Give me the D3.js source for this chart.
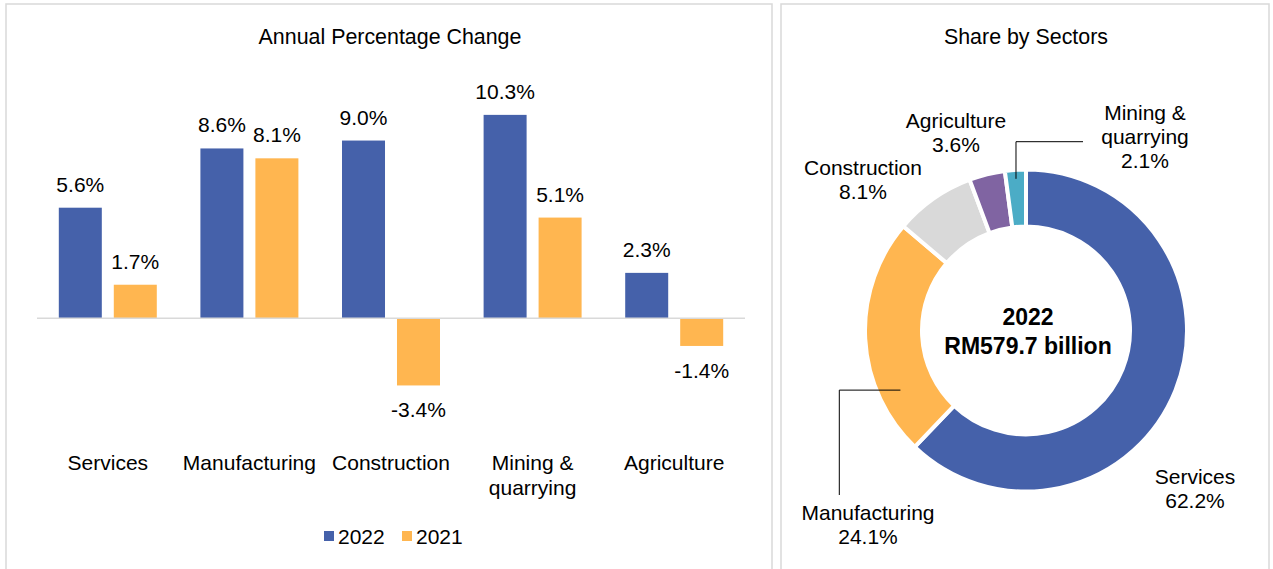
<!DOCTYPE html>
<html>
<head>
<meta charset="utf-8">
<script src="https://cdn.jsdelivr.net/npm/d3@7"></script>
<style>
  html, body { margin: 0; padding: 0; background: #fff; }
  svg { display: block; font-family: "Liberation Sans", Arial, sans-serif; }
</style>
</head>
<body>
<svg id="chart" width="1273" height="569"></svg>
<script>
// ---------- data ----------
const categories = ["Services", "Manufacturing", "Construction", "Mining & quarrying", "Agriculture"];
const seriesNames = ["2022", "2021"];
const values2022 = [5.6, 8.6, 9.0, 10.3, 2.3];
const values2021 = [1.7, 8.1, -3.4, 5.1, -1.4];

const shareSectors = ["Services", "Manufacturing", "Construction", "Agriculture", "Mining & quarrying"];
const shareValues = [62.2, 24.1, 8.1, 3.6, 2.1];
const centerLines = ["2022", "RM579.7 billion"];

const barTitle = "Annual Percentage Change";
const pieTitle = "Share by Sectors";

// ---------- style ----------
const seriesColors = { "2022": "#4561AA", "2021": "#FFB650" };
const sectorColors = ["#4561AA", "#FFB650", "#D9D9D9", "#8064A2", "#4BACC6"];
const FS = 21;
const TFS = 21.4;

const svg = d3.select("#chart");

// panel borders
svg.append("rect").attr("x", 6).attr("y", 4).attr("width", 766).attr("height", 600)
  .attr("fill", "none").attr("stroke", "#D9D9D9").attr("stroke-width", 1.5);
svg.append("rect").attr("x", 781).attr("y", 4).attr("width", 488).attr("height", 600)
  .attr("fill", "none").attr("stroke", "#D9D9D9").attr("stroke-width", 1.5);

// ---------- bar chart ----------
svg.append("text").attr("x", 390).attr("y", 44).attr("text-anchor", "middle")
  .attr("font-size", TFS).attr("fill", "#000").text(barTitle);

const x0 = d3.scaleBand().domain(categories).range([37, 745])
  .paddingInner(0.308).paddingOuter(0.154);
const x1 = d3.scaleBand().domain(seriesNames).range([0, x0.bandwidth()]).paddingInner(0.218);
const y = d3.scaleLinear().domain([-5, 12]).range([417.05, 81.3]);

const rows = categories.map((c, i) => ({ cat: c, vals: [
  { s: "2022", v: values2022[i] }, { s: "2021", v: values2021[i] } ] }));

const g = svg.append("g");
const groups = g.selectAll("g.grp").data(rows).join("g")
  .attr("transform", d => `translate(${x0(d.cat)},0)`);

groups.selectAll("rect").data(d => d.vals).join("rect")
  .attr("x", d => x1(d.s))
  .attr("width", x1.bandwidth())
  .attr("y", d => y(Math.max(0, d.v)))
  .attr("height", d => Math.abs(y(d.v) - y(0)))
  .attr("fill", d => seriesColors[d.s]);

groups.selectAll("text.val").data(d => d.vals).join("text")
  .attr("class", "val")
  .attr("x", d => x1(d.s) + x1.bandwidth() / 2)
  .attr("y", d => d.v >= 0 ? y(d.v) - 16 : y(d.v) + 32)
  .attr("text-anchor", "middle").attr("font-size", FS).attr("fill", "#000")
  .text(d => d.v.toFixed(1) + "%");

// zero line
g.append("line").attr("x1", 37).attr("x2", 745).attr("y1", y(0)).attr("y2", y(0))
  .attr("stroke", "#D9D9D9").attr("stroke-width", 1.5);

// category axis labels
const xAxis = d3.axisBottom(x0).tickSize(0).tickPadding(0);
const ax = g.append("g").attr("transform", "translate(0,470)").call(xAxis);
ax.select(".domain").remove();
ax.selectAll(".tick text").each(function(d) {
  const t = d3.select(this);
  t.text(null).attr("font-size", FS).attr("fill", "#000")
   .attr("font-family", "'Liberation Sans', Arial, sans-serif").attr("dy", 0);
  const parts = d === "Mining & quarrying" ? ["Mining &", "quarrying"] : [d];
  parts.forEach((p, i) => t.append("tspan").attr("x", 0).attr("dy", i === 0 ? 0 : 25).text(p));
});

// legend
const legendItems = [{ s: "2022", x: 324 }, { s: "2021", x: 402 }];
const lg = svg.append("g");
legendItems.forEach(it => {
  lg.append("rect").attr("x", it.x).attr("y", 531).attr("width", 10).attr("height", 10)
    .attr("fill", seriesColors[it.s]);
  lg.append("text").attr("x", it.x + 14).attr("y", 544).attr("font-size", FS).attr("fill", "#000")
    .text(it.s);
});

// ---------- donut ----------
svg.append("text").attr("x", 1026).attr("y", 44).attr("text-anchor", "middle")
  .attr("font-size", TFS).attr("fill", "#000").text(pieTitle);

const cx = 1026, cy = 330.5;
const pie = d3.pie().sort(null).value(d => d.v);
const pieData = pie(shareSectors.map((s, i) => ({ s, v: shareValues[i], c: sectorColors[i] })));
const arc = d3.arc().innerRadius(104).outerRadius(161);

const pg = svg.append("g").attr("transform", `translate(${cx},${cy})`);
pg.selectAll("path").data(pieData).join("path")
  .attr("d", arc).attr("fill", d => d.data.c)
  .attr("stroke", "#fff").attr("stroke-width", 4).attr("stroke-linejoin", "miter");

// center text
pg.append("text").attr("x", 2).attr("y", -5.5).attr("text-anchor", "middle")
  .attr("font-size", 23).attr("font-weight", "bold").text(centerLines[0]);
pg.append("text").attr("x", 2).attr("y", 23.5).attr("text-anchor", "middle")
  .attr("font-size", 23).attr("font-weight", "bold").text(centerLines[1]);

// labels (layout positions)
const labelPos = {
  "Services": { x: 1195, y: 484, lines: ["Services"] },
  "Manufacturing": { x: 868, y: 520, lines: ["Manufacturing"] },
  "Construction": { x: 863, y: 175, lines: ["Construction"] },
  "Agriculture": { x: 956, y: 128, lines: ["Agriculture"] },
  "Mining & quarrying": { x: 1145, y: 120, lines: ["Mining &", "quarrying"] }
};
pieData.forEach(d => {
  const p = labelPos[d.data.s];
  const t = svg.append("text").attr("x", p.x).attr("y", p.y).attr("text-anchor", "middle")
    .attr("font-size", FS).attr("fill", "#000");
  const lines = p.lines.concat([d.data.v.toFixed(1) + "%"]);
  lines.forEach((l, i) => t.append("tspan").attr("x", p.x).attr("dy", i === 0 ? 0 : 24).text(l));
});

// leader lines
function polar(angleDeg, r) {
  const a = angleDeg * Math.PI / 180;
  return [cx + r * Math.sin(a), cy - r * Math.cos(a)];
}
const mining = pieData[4];
const mMid = (mining.startAngle + mining.endAngle) / 2 * 180 / Math.PI;
const mp = polar(mMid, 152);
svg.append("path")
  .attr("d", `M${mp[0]},${mp[1]} V141.7 H1083`)
  .attr("fill", "none").attr("stroke", "#000").attr("stroke-width", 1);

const mp2 = polar(244.6, 139);
svg.append("path")
  .attr("d", `M${mp2[0]},${mp2[1]} H839.3 V495`)
  .attr("fill", "none").attr("stroke", "#000").attr("stroke-width", 1);
</script>
</body>
</html>
